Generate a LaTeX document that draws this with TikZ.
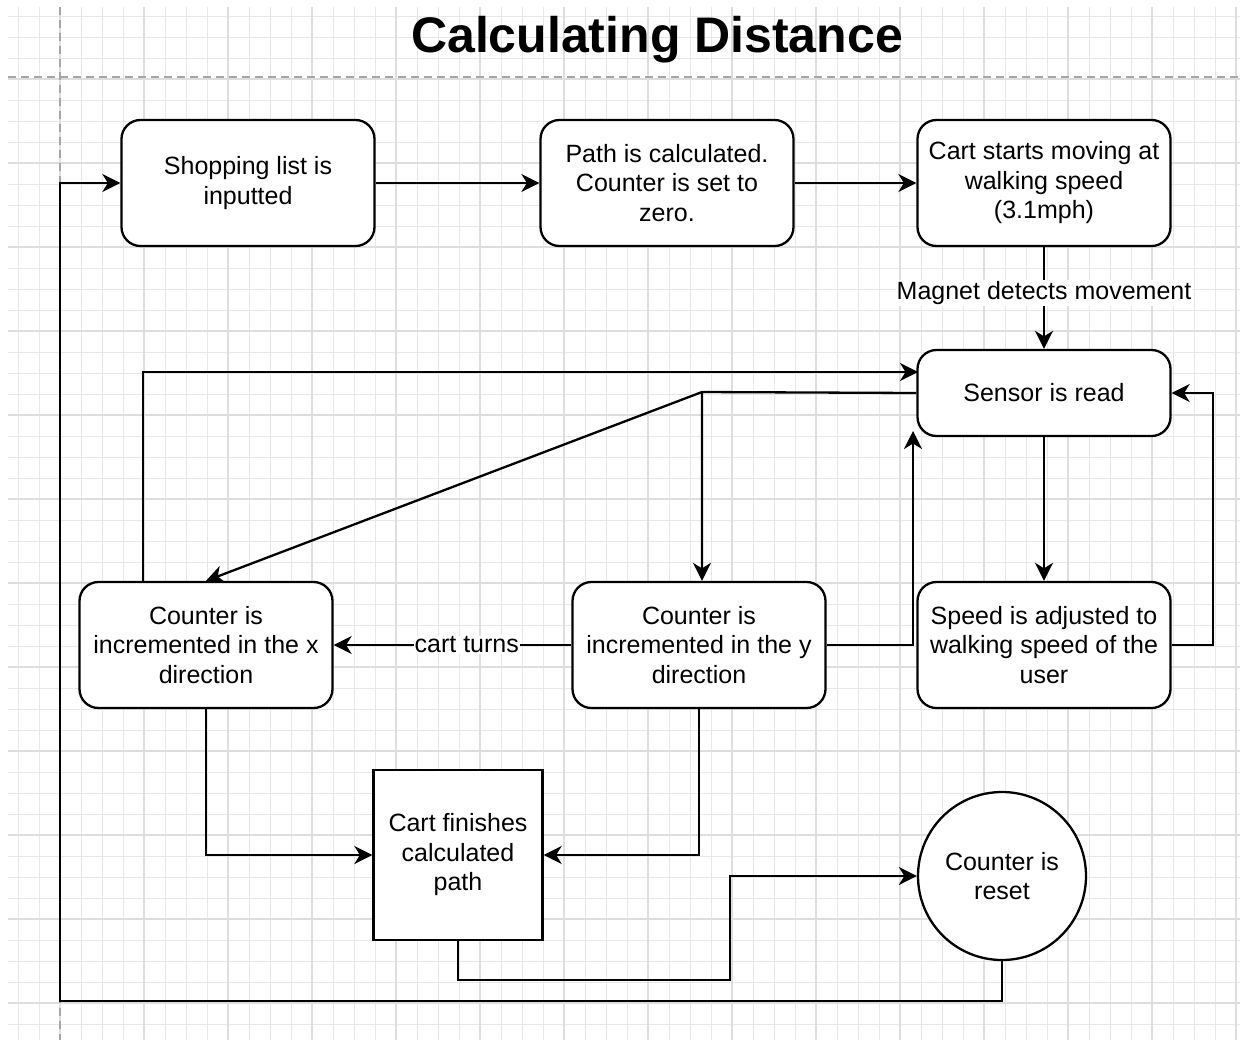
\documentclass[tikz,border=0pt]{standalone}
\usepackage{fontspec}
\setmainfont{Liberation Sans}
\usetikzlibrary{arrows.meta}
\begin{document}
\begin{tikzpicture}[x=1pt,y=-1pt,
  box/.style={draw, line width=2.3pt, rounded corners=19pt, minimum width=253pt, minimum height=126pt, align=center, fill=white, inner sep=2pt, font=\fontsize{25}{29.5}\selectfont},
  arr/.style={line width=2.3pt, -{Stealth[length=18pt,width=18pt,inset=5.5pt]}},
  lbl/.style={fill=white, inner sep=1pt, font=\fontsize{25}{29.5}\selectfont},
  gridminor/.style={draw=black!9, line width=0.9pt},
  gridmajor/.style={draw=black!13, line width=1.1pt},
  dashgray/.style={draw=black!35, line width=1.2pt, dash pattern=on 8pt off 5pt}]
\useasboundingbox[fill=white] (0,0) rectangle (1249,1042);
% grid
\foreach \i in {-2,...,56} {\draw[gridminor] ({60+21*\i},7) -- ({60+21*\i},1040);}
\foreach \i in {-3,...,45} {\draw[gridminor] (8,{79+21*\i}) -- (1240,{79+21*\i});}
\foreach \i in {0,...,14} {\draw[gridmajor] ({60+84*\i},7) -- ({60+84*\i},1040);}
\foreach \i in {0,...,11} {\draw[gridmajor] (8,{79+84*\i}) -- (1240,{79+84*\i});}
\draw[dashgray] (8,77) -- (1240,77);
\draw[dashgray] (60,7) -- (60,1040);
% title
\node[font=\fontsize{50}{60}\selectfont\bfseries] (title) at (657,40) {Calculating Distance};
% nodes
\node[box] (shop) at (248,183) {Shopping list is\\inputted};
\node[box] (path) at (667,183) {Path is calculated.\\Counter is set to\\zero.};
\node[box] (cart) at (1044,183) {Cart starts moving at\\walking speed\\(3.1mph)};
\node[box, minimum height=86pt] (sensor) at (1044,393) {Sensor is read};
\node[box] (speed) at (1044,645) {Speed is adjusted to\\walking speed of the\\user};
\node[box] (cx) at (206,645) {Counter is\\incremented in the x\\direction};
\node[box] (cy) at (699,645) {Counter is\\incremented in the y\\direction};
\node[draw, line width=2.3pt, fill=white, minimum width=169pt, minimum height=170pt, align=center, inner sep=2pt, font=\fontsize{25}{29.5}\selectfont] (fin) at (458,855) {Cart finishes\\calculated\\path};
\node[draw, circle, line width=2.3pt, fill=white, minimum size=168pt, align=center, inner sep=2pt, font=\fontsize{25}{29.5}\selectfont] (reset) at (1002,876) {Counter is\\reset};
% helper coordinates
\coordinate (w) at (702,392);
\coordinate (sin) at (913,431);
\coordinate (cxo) at (143,582);
\coordinate (sa) at (918,372);
\coordinate (m1) at (730,980);
\coordinate (m2) at (60,1001);
% connectors
\draw[arr] (shop.east) -- (path.west);
\draw[arr] (path.east) -- (cart.west);
\draw[arr] (cart.south) -- node[lbl, pos=0.45] {Magnet detects movement} (sensor.north);
\draw[arr] (sensor.south) -- (speed.north);
\draw[arr] (speed.east) -- ++(41,0) |- (sensor.east);
\draw[arr] (cy.east) -| (sin);
\draw[arr] (sensor.west) -- (w) -- (w |- cy.north);
\draw[arr] (w) -- (cx.north);
\draw[arr] (cxo) |- (sa);
\draw[arr] (cy.west) -- node[lbl, pos=0.44] {cart turns} (cx.east);
\draw[arr] (cx.south) |- (fin.west);
\draw[arr] (cy.south) |- (fin.east);
\draw[arr] (fin.south) |- (m1) |- (reset.west);
\draw[arr] (reset.south) |- (m2) |- (shop.west);
\end{tikzpicture}
\end{document}
